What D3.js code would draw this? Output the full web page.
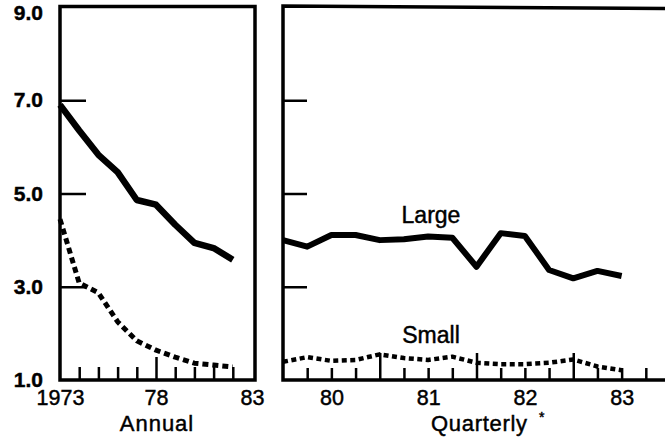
<!DOCTYPE html>
<html>
<head>
<meta charset="utf-8">
<script src="https://cdn.jsdelivr.net/npm/d3@7/dist/d3.min.js"></script>
<style>
body { margin: 0; background: #fff; }
text { font-family: "Liberation Sans", Arial, sans-serif; fill: #000; stroke: #000; stroke-width: 0.45px; }
</style>
</head>
<body>
<script>
// annual panel
var annualYears = [1973, 1974, 1975, 1976, 1977, 1978, 1979, 1980, 1981, 1982];
var annualLarge = [6.9, 6.35, 5.83, 5.46, 4.86, 4.76, 4.33, 3.94, 3.83, 3.58];
var annualSmall = [4.45, 3.08, 2.87, 2.25, 1.84, 1.64, 1.49, 1.36, 1.32, 1.28];

// quarterly panel (year fraction)
var quarters = [1979.5, 1979.75, 1980, 1980.25, 1980.5, 1980.75, 1981, 1981.25,
                1981.5, 1981.75, 1982, 1982.25, 1982.5, 1982.75, 1983];
var quarterLarge = [4.00, 3.86, 4.11, 4.11, 4.00, 4.02, 4.08, 4.05, 3.43, 4.15, 4.09, 3.36, 3.18, 3.34, 3.23];
var quarterSmall = [1.39, 1.49, 1.41, 1.43, 1.55, 1.47, 1.43, 1.50, 1.37, 1.34, 1.34, 1.37, 1.44, 1.29, 1.21];

// ticks and labels
var yTicks = [3, 5, 7];
var yLabels = [1, 3, 5, 7, 9];
var annualMinor = [1974, 1975, 1976, 1977, 1979, 1980, 1981, 1982];
var annualMajor = [1978];
var annualLabels = [1973, 1978, 1983];
var quarterMinor = [1979.75, 1980, 1980.25, 1980.75, 1981, 1981.25, 1981.75, 1982, 1982.25, 1982.75, 1983, 1983.25];
var quarterMajor = [1980.5, 1981.5, 1982.5];
var quarterLabels = [1980, 1981, 1982, 1983];

var width = 665, height = 438;

var svg = d3.select("body").append("svg")
    .attr("width", width)
    .attr("height", height);

var y = d3.scaleLinear().domain([1, 9]).range([380, 7]);
var xA = d3.scaleLinear().domain([1973, 1983]).range([60, 252]);
var xQ = d3.scaleLinear().domain([1979.5, 1983.5]).range([283, 670]);

function tickAxis(g, axis) {
    g.call(axis);
    g.select(".domain").remove();
    g.selectAll(".tick line").attr("stroke", "#000").attr("stroke-width", 2.5);
    g.selectAll(".tick text").remove();
}

function labelAxis(g, axis, size, weight) {
    g.call(axis);
    g.select(".domain").remove();
    g.selectAll(".tick line").remove();
    g.selectAll(".tick text")
        .style("font-family", "'Liberation Sans', Arial, sans-serif")
        .style("font-size", size + "px")
        .style("font-weight", weight)
        .attr("fill", "#000");
}

// bottom ticks (pointing up)
svg.append("g").attr("transform", "translate(0,380)")
    .call(tickAxis, d3.axisBottom(xA).tickValues(annualMinor).tickSize(-13));
svg.append("g").attr("transform", "translate(0,380)")
    .call(tickAxis, d3.axisBottom(xA).tickValues(annualMajor).tickSize(-23));
svg.append("g").attr("transform", "translate(0,380)")
    .call(tickAxis, d3.axisBottom(xQ).tickValues(quarterMinor).tickSize(-12));
svg.append("g").attr("transform", "translate(0,380)")
    .call(tickAxis, d3.axisBottom(xQ).tickValues(quarterMajor).tickSize(-27));

// y ticks (pointing inward)
svg.append("g").attr("transform", "translate(60,0)")
    .call(tickAxis, d3.axisRight(y).tickValues(yTicks).tickSize(26));
svg.append("g").attr("transform", "translate(283,0)")
    .call(tickAxis, d3.axisRight(y).tickValues(yTicks).tickSize(24));

// tick labels
svg.append("g").attr("transform", "translate(0,380)")
    .call(labelAxis, d3.axisBottom(xA).tickValues(annualLabels).tickSize(0).tickPadding(10)
        .tickFormat(function(d) { return d == 1973 ? "1973" : String(d).slice(2); }), 21.5, "normal");
svg.append("g").attr("transform", "translate(0,380)")
    .call(labelAxis, d3.axisBottom(xQ).tickValues(quarterLabels).tickSize(0).tickPadding(10)
        .tickFormat(function(d) { return String(d).slice(2); }), 21.5, "normal");

var yl = svg.append("g").attr("transform", "translate(43,0)")
    .call(labelAxis, d3.axisLeft(y).tickValues(yLabels).tickSize(0).tickPadding(0)
        .tickFormat(d3.format(".1f")), 21, "bold");
yl.selectAll(".tick text").filter(function(d) { return d == 9; }).attr("dy", "0.6em");

// frames
svg.append("path")
    .attr("d", "M60,380V6.5H255V380Z")
    .attr("fill", "none").attr("stroke", "#000").attr("stroke-width", 3.5);
svg.append("path")
    .attr("d", "M665,8.5L283,6V380H665")
    .attr("fill", "none").attr("stroke", "#000").attr("stroke-width", 3.5);

// lines
function drawLine(xs, vals, x, dash, w) {
    var line = d3.line()
        .x(function(d, i) { return x(xs[i]); })
        .y(function(d) { return y(d); });
    svg.append("path")
        .datum(vals)
        .attr("d", line)
        .attr("fill", "none")
        .attr("stroke", "#000")
        .attr("stroke-width", w)
        .attr("stroke-linejoin", "round")
        .attr("stroke-dasharray", dash);
}

drawLine(annualYears, annualLarge, xA, null, 6.5);
drawLine(annualYears, annualSmall, xA, "6,4", 5);
drawLine(quarters, quarterLarge, xQ, null, 6);
drawLine(quarters, quarterSmall, xQ, "5,3.5", 4.5);

// text
svg.append("text").attr("x", 431).attr("y", 223).attr("text-anchor", "middle")
    .style("font-size", "23px").text("Large");
svg.append("text").attr("x", 431).attr("y", 343).attr("text-anchor", "middle")
    .style("font-size", "23px").text("Small");
svg.append("text").attr("x", 157).attr("y", 431).attr("text-anchor", "middle")
    .style("font-size", "22px").style("letter-spacing", "1px").text("Annual");
svg.append("text").attr("x", 431).attr("y", 431)
    .style("font-size", "22px").style("letter-spacing", "0.7px").text("Quarterly");
svg.append("text").attr("x", 539).attr("y", 422)
    .style("font-size", "14px").text("*");
</script>
</body>
</html>
